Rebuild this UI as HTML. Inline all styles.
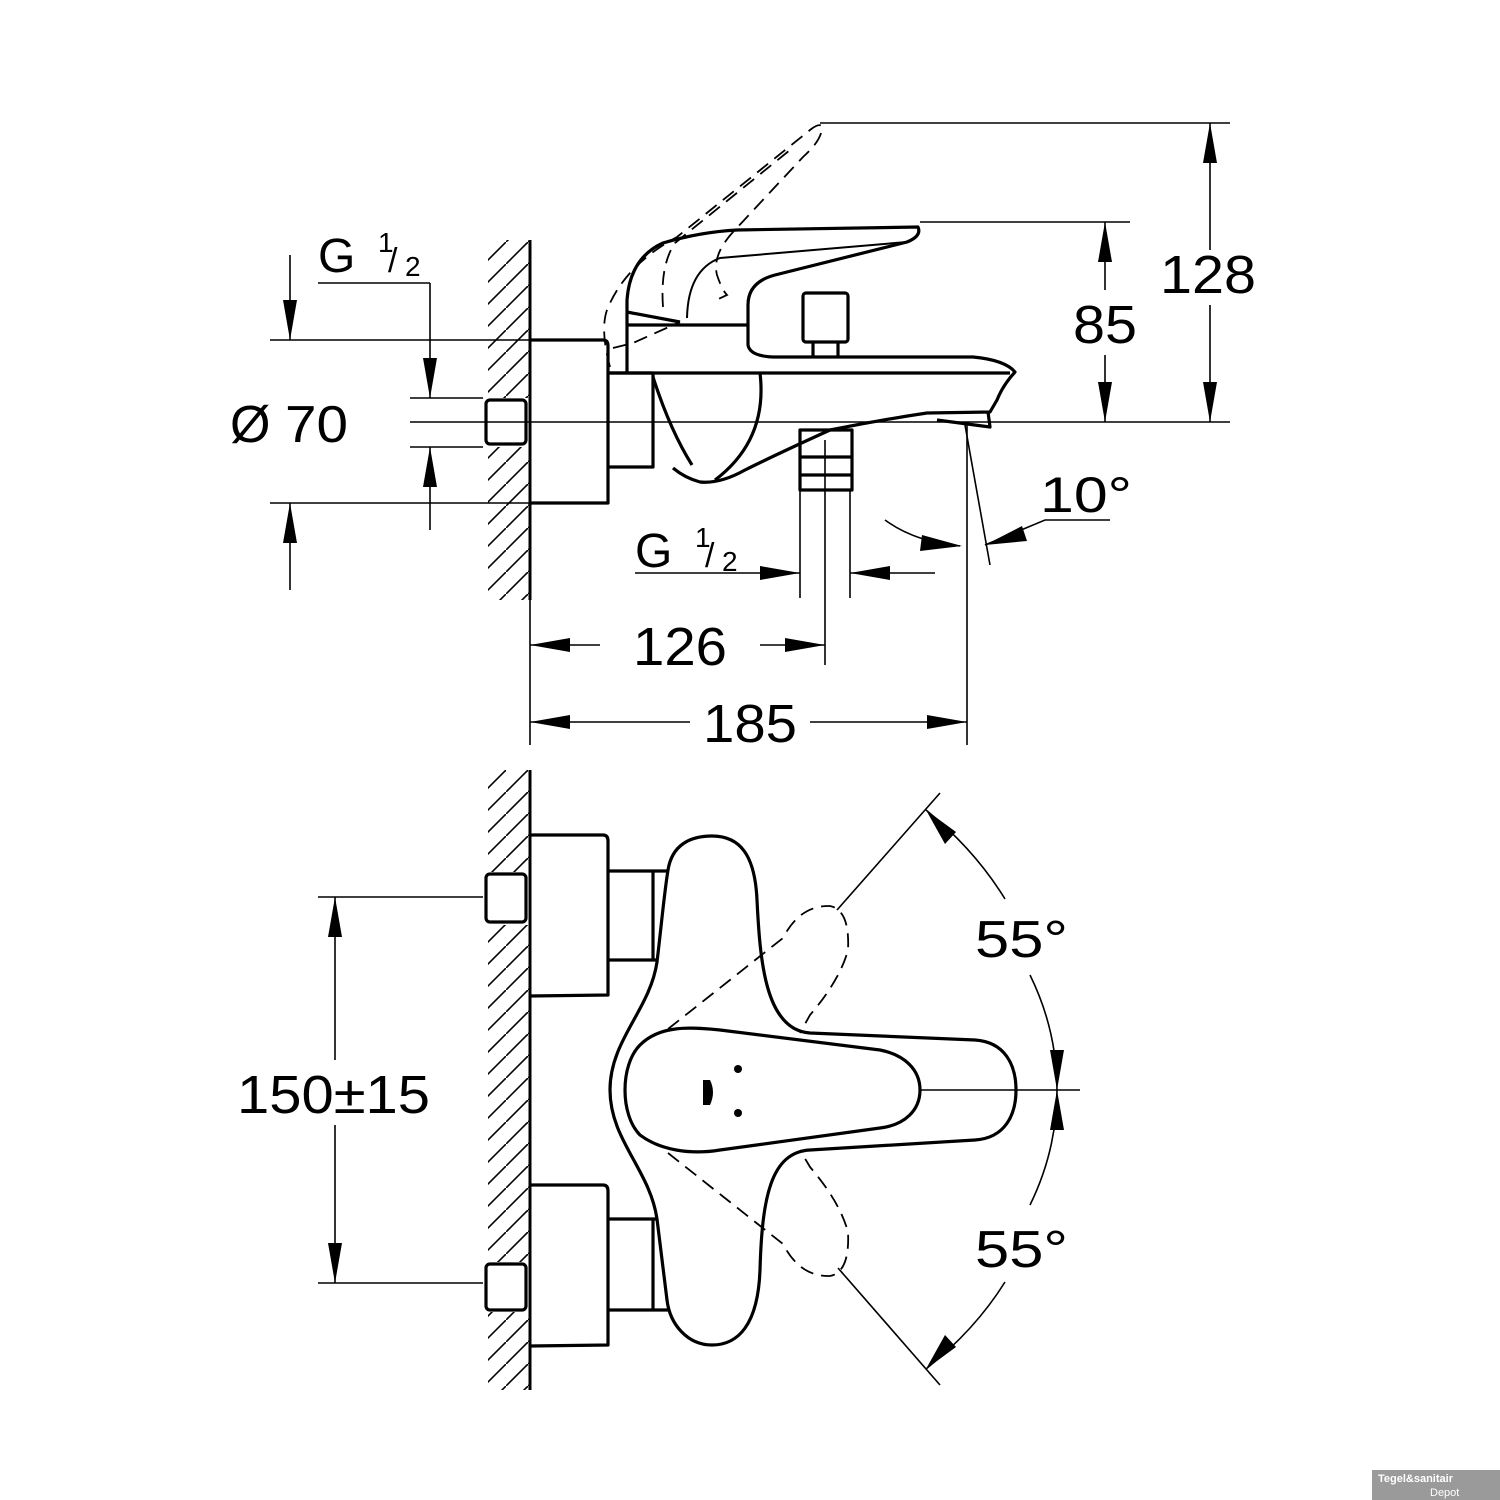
<!DOCTYPE html>
<html><head><meta charset="utf-8"><style>
html,body{margin:0;padding:0;background:#fff;}
svg{display:block;}
text{font-family:"Liberation Sans",sans-serif;fill:#000;}
</style></head><body>
<svg width="1500" height="1500" viewBox="0 0 1500 1500" xmlns="http://www.w3.org/2000/svg">
<defs>
<pattern id="h" patternUnits="userSpaceOnUse" width="22" height="22">
<line x1="0" y1="22" x2="22" y2="0" stroke="#000" stroke-width="1.6"/>
</pattern>
<clipPath id="w1"><rect x="488" y="240" width="42" height="360"/></clipPath>
<clipPath id="w2"><rect x="488" y="770" width="42" height="620"/></clipPath>
</defs>
<rect width="1500" height="1500" fill="#fff"/>
<g clip-path="url(#w1)"><rect x="480" y="230" width="60" height="380" fill="url(#h)"/></g>
<g clip-path="url(#w2)"><rect x="480" y="760" width="60" height="640" fill="url(#h)"/></g>
<rect x="483" y="398" width="47" height="49" fill="#fff"/>
<rect x="483" y="872" width="47" height="53" fill="#fff"/>
<rect x="483" y="1262" width="47" height="50" fill="#fff"/>
<line x1="530" y1="240" x2="530" y2="600" stroke="#000" stroke-width="3"/>
<line x1="530" y1="770" x2="530" y2="1390" stroke="#000" stroke-width="3"/>

<g fill="none" stroke="#000" stroke-width="1.6">
<line x1="820" y1="123" x2="1230" y2="123"/>
<line x1="920" y1="222" x2="1130" y2="222"/>
<line x1="410" y1="422" x2="1230" y2="422"/>
<line x1="1210" y1="123" x2="1210" y2="250"/><line x1="1210" y1="305" x2="1210" y2="422"/>
<line x1="1105" y1="222" x2="1105" y2="290"/><line x1="1105" y1="355" x2="1105" y2="422"/>
<line x1="290" y1="255" x2="290" y2="340"/><line x1="290" y1="503" x2="290" y2="590"/>
<line x1="270" y1="340" x2="530" y2="340"/><line x1="270" y1="503" x2="530" y2="503"/>
<line x1="318" y1="283" x2="430" y2="283"/><line x1="430" y1="283" x2="430" y2="398"/>
<line x1="430" y1="447" x2="430" y2="530"/>
<line x1="410" y1="398" x2="483" y2="398"/><line x1="410" y1="447" x2="483" y2="447"/>
<line x1="530" y1="600" x2="530" y2="745"/>
<line x1="825" y1="440" x2="825" y2="665"/>
<line x1="800" y1="490" x2="800" y2="598"/><line x1="850" y1="490" x2="850" y2="598"/>
<line x1="967" y1="425" x2="967" y2="745"/>
<line x1="530" y1="645" x2="600" y2="645"/><line x1="760" y1="645" x2="825" y2="645"/>
<line x1="530" y1="722" x2="690" y2="722"/><line x1="810" y1="722" x2="967" y2="722"/>
<line x1="635" y1="573" x2="800" y2="573"/><line x1="850" y1="573" x2="935" y2="573"/>
<line x1="965" y1="425" x2="990" y2="565"/>
<path d="M885,520 Q915,542 960,546"/>
<path d="M985,545 L1045,520 L1110,520"/>
</g>

<g fill="#000">
<polygon points="1210,123 1203,163 1217,163"/><polygon points="1210,422 1203,382 1217,382"/>
<polygon points="1105,222 1098,262 1112,262"/><polygon points="1105,422 1098,382 1112,382"/>
<polygon points="290,340 283,300 297,300"/><polygon points="290,503 283,543 297,543"/>
<polygon points="430,398 423,358 437,358"/><polygon points="430,447 423,487 437,487"/>
<polygon points="530,645 570,638 570,652"/><polygon points="825,645 785,638 785,652"/>
<polygon points="530,722 570,715 570,729"/><polygon points="967,722 927,715 927,729"/>
<polygon points="800,573 760,566 760,580"/><polygon points="850,573 890,566 890,580"/>
<polygon points="962,546 922,535 920,551"/>
<polygon points="985,545 1022,526 1027,541"/>
<polygon points="335,897 328,937 342,937"/><polygon points="335,1283 328,1243 342,1243"/>
<polygon points="926,810 945,844 956,832"/>
<polygon points="1057,1090 1050,1050 1064,1050"/>
<polygon points="1057,1090 1050,1130 1064,1130"/>
<polygon points="926,1369 945,1335 956,1347"/>
</g>

<g fill="none" stroke="#000" stroke-width="3.2" stroke-linejoin="round">
<path d="M530,340 L603,340 Q608,340 608,346 L608,503 L530,503"/>
<rect x="486" y="400" width="40" height="44" rx="4"/>
<path d="M608,373 L653,373 L653,467 L608,467"/>
<path d="M608,373 L1010,373"/>
<path d="M627,373 L627,325 L748,325 L748,345 Q750,357 777,357 L973,357 Q1005,360 1015,372 Q1003,385 997,400 L990,412 L927,413 Q880,420 830,430 Q775,455 745,470 Q720,484 700,482 Q685,478 673,468"/>
<path d="M653,377 Q670,430 692,465"/>
<path d="M760,373 Q768,440 715,480"/>
<path d="M937,420 L990,427 L988,412"/>
<path d="M627,325 L627,300 Q630,258 663,243 Q700,232 737,230 L918,227 Q922,236 907,242 L775,275 Q748,282 748,305 L748,325"/>
<path d="M627,312 L680,322"/>
<path d="M687,318 Q688,270 720,258 L907,242" stroke-width="2"/>
<rect x="803" y="293" width="45" height="49" rx="3"/>
<path d="M813,342 L813,357 M838,342 L838,357"/>
<rect x="800" y="430" width="52" height="60"/>
<path d="M800,457 L852,457 M800,475 L852,475"/>
</g>
<g fill="none" stroke="#000" stroke-width="1.8" stroke-dasharray="14,8">
<path d="M610,367 Q600,330 607,310 Q625,265 677,237 L810,130 Q820,122 822,127 Q822,140 803,157 L733,232 Q712,255 717,275 Q722,290 727,295 L712,302"/>
<path d="M663,307 Q660,265 675,243 L790,150"/>
<path d="M613,348 L633,343 L680,322"/>
</g>

<g fill="none" stroke="#000" stroke-width="3.2" stroke-linejoin="round">
<path d="M530,835 L603,835 Q608,835 608,841 L608,995 L530,996"/>
<path d="M530,1185 L603,1185 Q608,1185 608,1191 L608,1345 L530,1346"/>
<rect x="486" y="874" width="40" height="48" rx="4"/>
<rect x="486" y="1264" width="40" height="46" rx="4"/>
<path d="M608,871 L668,871 M608,960 L657,960 M653,871 L653,960"/>
<path d="M608,1219 L657,1219 M608,1310 L668,1310 M653,1219 L653,1310"/>
<path d="M657,962 C662,920 664,895 668,870 C672,845 690,836 712,836 C740,836 755,855 757,900 C760,960 765,1030 810,1033 L975,1040 C1005,1042 1016,1065 1016,1090 C1016,1115 1005,1138 975,1140 L810,1150 C770,1152 762,1200 760,1270 C758,1325 738,1345 712,1345 C688,1345 670,1325 667,1300 L657,1219 C650,1170 610,1140 610,1090 C610,1040 650,1010 657,962 Z"/>
<path d="M640,1045 C660,1025 690,1027 720,1030 L880,1050 C905,1055 920,1070 920,1090 C920,1110 905,1125 880,1128 L720,1150 C690,1155 660,1150 640,1135 C620,1115 620,1065 640,1045 Z"/>
</g>
<g fill="#000">
<circle cx="738" cy="1069" r="4"/><circle cx="738" cy="1113" r="4"/>
<path d="M703,1080 L710,1080 Q716,1092 710,1105 L703,1105 Z"/>
</g>
<g fill="none" stroke="#000" stroke-width="1.6">
<line x1="920" y1="1090" x2="1080" y2="1090"/>
<line x1="837" y1="910" x2="940" y2="793"/>
<line x1="838" y1="1268" x2="940" y2="1385"/>
<path d="M926,810 Q975,850 1005,899"/>
<path d="M1030,975 Q1057,1030 1057,1090"/>
<path d="M1057,1090 Q1057,1150 1030,1205"/>
<path d="M1005,1282 Q975,1330 926,1369"/>
<line x1="318" y1="897" x2="483" y2="897"/><line x1="318" y1="1283" x2="483" y2="1283"/>
<line x1="335" y1="897" x2="335" y2="1060"/><line x1="335" y1="1125" x2="335" y2="1283"/>
</g>
<g fill="none" stroke="#000" stroke-width="1.8" stroke-dasharray="14,8">
<path d="M668,1029 L783,938 Q800,905 830,906 Q850,910 848,950 Q840,980 810,1015 L800,1033"/>
<path d="M668,1153 L783,1244 Q800,1277 830,1276 Q850,1272 848,1232 Q840,1202 810,1167 L800,1150"/>
</g>

<text x="1160" y="293" font-size="54" textLength="96" lengthAdjust="spacingAndGlyphs">128</text>
<text x="1073" y="343" font-size="54" textLength="64" lengthAdjust="spacingAndGlyphs">85</text>
<text x="230" y="442" font-size="52">Ø</text>
<text x="285" y="442" font-size="52" textLength="63" lengthAdjust="spacingAndGlyphs">70</text>
<text x="318" y="272" font-size="48">G</text>
<text x="378" y="252" font-size="28">1</text>
<text x="388" y="272" font-size="34">/</text>
<text x="405" y="276" font-size="28">2</text>
<text x="635" y="567" font-size="48">G</text>
<text x="695" y="547" font-size="28">1</text>
<text x="705" y="567" font-size="34">/</text>
<text x="722" y="571" font-size="28">2</text>
<text x="633" y="665" font-size="54" textLength="94" lengthAdjust="spacingAndGlyphs">126</text>
<text x="703" y="742" font-size="54" textLength="94" lengthAdjust="spacingAndGlyphs">185</text>
<text x="1040" y="512" font-size="50" textLength="92" lengthAdjust="spacingAndGlyphs">10°</text>
<text x="975" y="957" font-size="52" textLength="93" lengthAdjust="spacingAndGlyphs">55°</text>
<text x="975" y="1267" font-size="52" textLength="93" lengthAdjust="spacingAndGlyphs">55°</text>
<text x="237" y="1113" font-size="54" textLength="193" lengthAdjust="spacingAndGlyphs">150±15</text>

<rect x="1372" y="1470" width="128" height="30" fill="#9a9a9a"/>
<text x="1378" y="1482" font-size="11" style="fill:#fff;font-weight:bold">Tegel&amp;sanitair</text>
<text x="1430" y="1496" font-size="11" style="fill:#fff">Depot</text>
</svg>
</body></html>
